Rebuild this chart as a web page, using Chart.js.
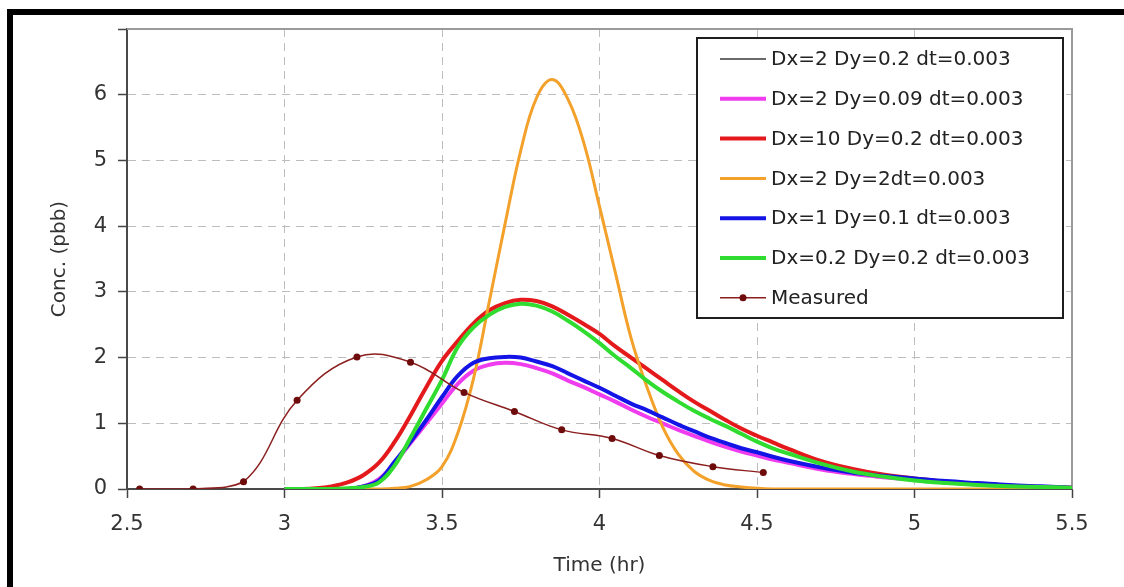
<!DOCTYPE html>
<html>
<head>
<meta charset="utf-8">
<script src="https://cdn.jsdelivr.net/npm/chart.js@4.4.1/dist/chart.umd.min.js"></script>
<style>
  html, body { margin: 0; padding: 0; background: #fff; }
  canvas { display: block; }
</style>
</head>
<body>
<canvas id="concChart" width="1124" height="587"></canvas>
<script>
// simulation output times (hr)
const times = [
  3.0, 3.05, 3.1, 3.15, 3.2, 3.25, 3.3, 3.35, 3.4, 3.45, 3.5,
  3.55, 3.6, 3.65, 3.7, 3.75, 3.8, 3.85, 3.9, 3.95, 4.0,
  4.05, 4.1, 4.15, 4.2, 4.25, 4.3, 4.35, 4.4, 4.45, 4.5,
  4.55, 4.6, 4.7, 4.8, 4.9, 5.0, 5.1, 5.2, 5.3, 5.4, 5.5,
];

const dx2Dy02 = [
  0, 0, 0, 0, 0.01, 0.03, 0.1, 0.36, 0.78, 1.22, 1.66,
  2.16, 2.46, 2.65, 2.77, 2.82, 2.79, 2.7, 2.56, 2.4, 2.22,
  2.02, 1.84, 1.65, 1.48, 1.33, 1.19, 1.07, 0.96, 0.84, 0.72,
  0.62, 0.54, 0.39, 0.27, 0.19, 0.13, 0.09, 0.06, 0.04, 0.03, 0.02,
];
const dx2Dy009 = [
  0, 0, 0, 0, 0, 0.04, 0.15, 0.4, 0.7, 1.0, 1.3,
  1.6, 1.8, 1.89, 1.92, 1.9, 1.84, 1.76, 1.65, 1.55, 1.44,
  1.33, 1.21, 1.1, 1.0, 0.9, 0.81, 0.72, 0.64, 0.57, 0.51,
  0.45, 0.4, 0.3, 0.23, 0.18, 0.14, 0.1, 0.07, 0.05, 0.03, 0.02,
];
const dx10Dy02 = [
  0, 0, 0.01, 0.04, 0.1, 0.21, 0.4, 0.72, 1.12, 1.55, 1.95,
  2.25, 2.52, 2.72, 2.83, 2.88, 2.86, 2.78, 2.65, 2.51, 2.36,
  2.17, 2.0, 1.83, 1.66, 1.49, 1.33, 1.19, 1.05, 0.92, 0.81,
  0.71, 0.61, 0.43, 0.31, 0.22, 0.16, 0.11, 0.08, 0.05, 0.03, 0.02,
];
const dx2Dy2 = [
  0, 0, 0, 0, 0, 0, 0, 0.01, 0.04, 0.14, 0.34,
  0.85, 1.68, 2.85, 4.03, 5.15, 5.95, 6.23, 5.93, 5.27, 4.3,
  3.3, 2.3, 1.56, 0.95, 0.53, 0.27, 0.13, 0.06, 0.03, 0.01,
  0, 0, 0, 0, 0, 0, 0, 0, 0, 0, 0,
];
const dx1Dy01 = [
  0, 0, 0, 0, 0, 0.04, 0.13, 0.42, 0.72, 1.05, 1.4,
  1.72, 1.92, 1.99, 2.01, 2.0, 1.94, 1.87, 1.76, 1.65, 1.54,
  1.42, 1.3, 1.2, 1.09, 0.98, 0.88, 0.78, 0.7, 0.62, 0.56,
  0.49, 0.43, 0.33, 0.25, 0.2, 0.16, 0.12, 0.09, 0.06, 0.04, 0.02,
];
const dx02Dy02 = [
  0, 0, 0, 0, 0.01, 0.03, 0.1, 0.36, 0.78, 1.22, 1.66,
  2.16, 2.46, 2.65, 2.77, 2.82, 2.79, 2.7, 2.56, 2.4, 2.22,
  2.02, 1.84, 1.65, 1.48, 1.33, 1.19, 1.07, 0.96, 0.84, 0.72,
  0.62, 0.54, 0.39, 0.27, 0.19, 0.13, 0.09, 0.06, 0.04, 0.03, 0.02,
];

const measuredTimes = [2.54, 2.71, 2.87, 3.04, 3.23, 3.4, 3.57, 3.73, 3.88, 4.04, 4.19, 4.36, 4.52];
const measuredConc = [0, 0, 0.11, 1.35, 2.01, 1.93, 1.47, 1.18, 0.9, 0.77, 0.51, 0.34, 0.25];

const yTickLabels = ["0", "1", "2", "3", "4", "5", "6"];

const FONT = "DejaVu Sans";

const toPoints = (xs, ys) => xs.map((x, i) => ({ x, y: ys[i] }));

const simLine = (label, values, color, width, order) => ({
  label,
  data: toPoints(times, values),
  borderColor: color,
  backgroundColor: color,
  borderWidth: width,
  pointRadius: 0,
  tension: 0.4,
  order,
});

const datasets = [
  simLine("Dx=2 Dy=0.2 dt=0.003", dx2Dy02, "#6a6a6a", 2, 7),
  simLine("Dx=2 Dy=0.09 dt=0.003", dx2Dy009, "#ee3cee", 4, 6),
  simLine("Dx=10 Dy=0.2 dt=0.003", dx10Dy02, "#e3191c", 4, 5),
  simLine("Dx=2 Dy=2dt=0.003", dx2Dy2, "#f3a12a", 3, 4),
  simLine("Dx=1 Dy=0.1 dt=0.003", dx1Dy01, "#1414e6", 4, 3),
  simLine("Dx=0.2 Dy=0.2 dt=0.003", dx02Dy02, "#2fdc2f", 4, 2),
  {
    label: "Measured",
    data: toPoints(measuredTimes, measuredConc),
    borderColor: "#8b1e1e",
    backgroundColor: "#6e0b0b",
    borderWidth: 1.5,
    pointRadius: 3.5,
    pointBorderWidth: 0,
    tension: 0.4,
    order: 1,
  },
];

// black frame of the original figure + plot box top/right edges
const frame = {
  id: "frame",
  beforeDatasetsDraw(chart) {
    const { ctx, chartArea: a } = chart;
    ctx.save();
    ctx.strokeStyle = "#9a9a9a";
    ctx.lineWidth = 2;
    ctx.beginPath();
    ctx.moveTo(a.left, a.top);
    ctx.lineTo(a.right, a.top);
    ctx.lineTo(a.right, a.bottom);
    ctx.stroke();
    ctx.restore();
  },
  afterDraw(chart) {
    const { ctx } = chart;
    ctx.save();
    ctx.fillStyle = "#000";
    ctx.fillRect(7, 9, chart.width - 7, 6);
    ctx.fillRect(7, 9, 6, chart.height - 9);
    ctx.restore();
  },
};

// legend box drawn inside the plot, like the spreadsheet one
const boxLegend = {
  id: "boxLegend",
  afterDatasetsDraw(chart) {
    const { ctx } = chart;
    const left = 697;
    const top = 38;
    const width = 366;
    const height = 280;
    ctx.save();
    ctx.fillStyle = "#fff";
    ctx.fillRect(left, top, width, height);
    ctx.strokeStyle = "#1e1e1e";
    ctx.lineWidth = 2;
    ctx.strokeRect(left, top, width, height);
    ctx.font = `20px "${FONT}"`;
    ctx.textBaseline = "middle";
    chart.data.datasets.forEach((ds, i) => {
      const y = top + 21 + i * 39.8;
      ctx.strokeStyle = ds.borderColor;
      ctx.lineWidth = ds.borderWidth;
      ctx.beginPath();
      ctx.moveTo(720, y);
      ctx.lineTo(766, y);
      ctx.stroke();
      if (ds.pointRadius) {
        ctx.fillStyle = ds.backgroundColor;
        ctx.beginPath();
        ctx.arc(743, y, ds.pointRadius, 0, Math.PI * 2);
        ctx.fill();
      }
      ctx.fillStyle = "#222";
      ctx.fillText(ds.label, 771, y + 1);
    });
    ctx.restore();
  },
};

const config = {
  type: "line",
  data: { datasets },
  options: {
    responsive: false,
    animation: false,
    devicePixelRatio: 1,
    layout: { padding: { left: 14, top: 29, right: 52, bottom: 0 } },
    plugins: {
      legend: { display: false },
      tooltip: { enabled: false },
    },
    scales: {
      x: {
        type: "linear",
        min: 2.5,
        max: 5.5,
        afterFit: (scale) => {
          scale.height = 98;
        },
        ticks: {
          stepSize: 0.5,
          color: "#333",
          padding: 14,
          maxRotation: 0,
          font: { family: FONT, size: 21 },
          callback: (value) => String(value),
        },
        grid: {
          color: "#bdbdbd",
          lineWidth: 1,
          tickLength: 9,
          tickColor: "#444",
          tickWidth: 1.5,
        },
        border: { color: "#4a4a4a", width: 2, dash: [8, 6] },
        title: {
          display: true,
          text: "Time (hr)",
          color: "#333",
          font: { family: FONT, size: 20 },
          padding: { top: 0, bottom: 9 },
        },
      },
      y: {
        min: 0,
        max: 7,
        afterFit: (scale) => {
          scale.width = 113;
        },
        ticks: {
          stepSize: 1,
          color: "#333",
          padding: 11,
          font: { family: FONT, size: 21 },
          callback: (value) => yTickLabels[value] ?? "",
        },
        grid: {
          color: "#bdbdbd",
          lineWidth: 1,
          tickLength: 9,
          tickColor: "#444",
          tickWidth: 1.5,
        },
        border: { color: "#4a4a4a", width: 2, dash: [8, 6] },
        title: {
          display: true,
          text: "Conc. (pbb)",
          color: "#333",
          font: { family: FONT, size: 20 },
          padding: { top: 34, bottom: 0 },
        },
      },
    },
  },
  plugins: [frame, boxLegend],
};

new Chart(document.getElementById("concChart"), config);
</script>
</body>
</html>
